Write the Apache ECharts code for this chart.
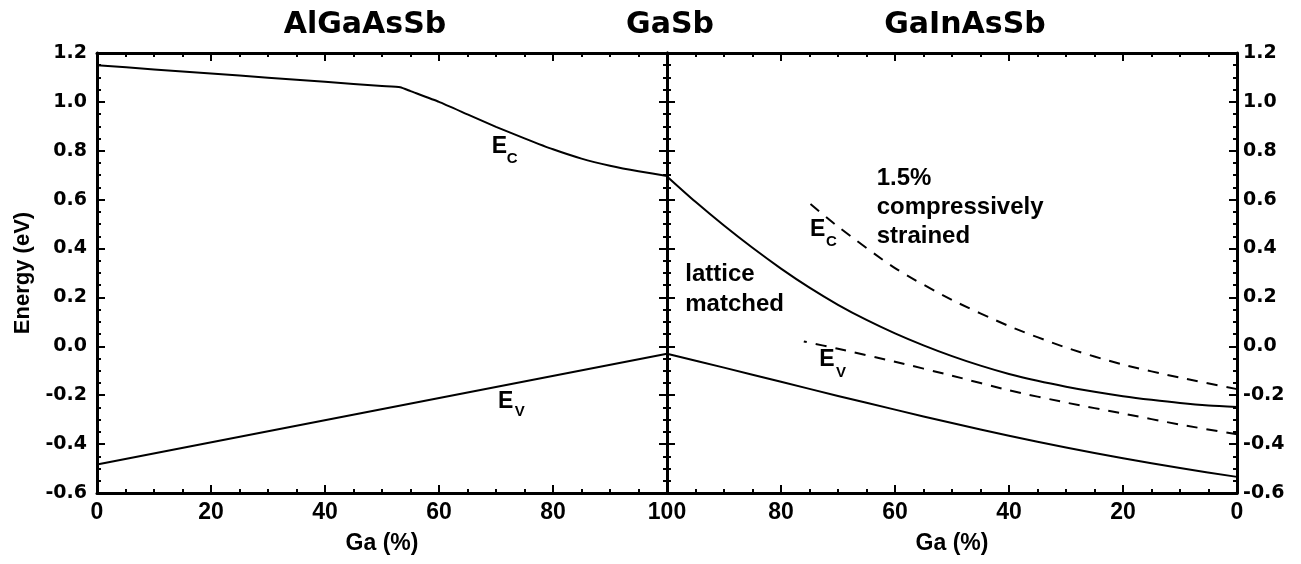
<!DOCTYPE html>
<html>
<head>
<meta charset="utf-8">
<script src="https://cdn.jsdelivr.net/npm/echarts@6/dist/echarts.min.js"></script>
<style>
  html, body { margin: 0; padding: 0; background: #fff; }
  #chart { width: 1301px; height: 564px; }
</style>
</head>
<body>
<div id="chart"></div>
<script>
// Band edges versus Ga content: AlGaAsSb (left panel) and GaInAsSb (right panel, Ga axis reversed)
const yTicks = [-0.6, -0.4, -0.2, 0.0, 0.2, 0.4, 0.6, 0.8, 1.0, 1.2];
const xTicks = [0, 20, 40, 60, 80, 100];

// AlGaAsSb conduction band edge
const gaAlGaEc = [0, 10, 20, 30, 40, 50, 53.2, 55, 60, 65, 70, 75, 80, 85, 90, 95, 100];
const ecAlGa   = [1.15, 1.133, 1.116, 1.099, 1.082, 1.065, 1.06, 1.044, 1.0, 0.949, 0.898, 0.851, 0.806, 0.768, 0.739, 0.716, 0.697];
// AlGaAsSb valence band edge
const gaAlGaEv = [0, 100];
const evAlGa   = [-0.483, -0.03];

// GaInAsSb lattice matched
const gaInEc = [0, 5, 10, 15, 20, 25, 30, 35, 40, 45, 50, 55, 60, 65, 70, 75, 80, 85, 90, 95, 100];
const ecGaIn = [-0.248, -0.242, -0.232, -0.219, -0.204, -0.186, -0.165, -0.141, -0.113, -0.079, -0.040, 0.004, 0.053, 0.108, 0.170, 0.240, 0.318, 0.403, 0.494, 0.591, 0.695];
const gaInEv = [0, 10, 20, 30, 40, 50, 60, 70, 80, 90, 100];
const evGaIn = [-0.534, -0.498, -0.458, -0.414, -0.366, -0.314, -0.259, -0.203, -0.145, -0.087, -0.03];

// GaInAsSb 1.5% compressively strained
const gaStrained = [0, 10, 20, 30, 40, 50, 60, 70, 76];
const ecStrained = [-0.175, -0.128, -0.075, -0.005, 0.083, 0.19, 0.32, 0.49, 0.605];
const evStrained = [-0.36, -0.32, -0.275, -0.23, -0.18, -0.12, -0.063, -0.01, 0.02];

const pairs = (xs, ys) => xs.map((x, i) => [x, ys[i]]);

const ARIAL = '"Liberation Sans", Arial, sans-serif';
const WIDE = '"DejaVu Sans", Verdana, sans-serif';
const INK = '#000';

const lineAxis = { show: true, onZero: false, lineStyle: { color: INK, width: 3 } };
const tick = { show: true, inside: true, length: 8, lineStyle: { color: INK, width: 2 } };
const minor = { show: true, splitNumber: 4, length: 4, lineStyle: { color: INK, width: 2 } };

function xAxisFor(grid, pos, withLabels, inverse, hideMax) {
  return {
    type: 'value', gridIndex: grid, position: pos, min: xTicks[0], max: xTicks[xTicks.length - 1],
    interval: xTicks[1] - xTicks[0], inverse: inverse,
    axisLine: lineAxis, axisTick: tick, minorTick: minor, splitLine: { show: false },
    axisLabel: withLabels ? {
      show: true, margin: 8, color: INK, fontFamily: ARIAL, fontWeight: 'bold', fontSize: 23,
      showMaxLabel: !hideMax, showMinLabel: true
    } : { show: false },
    name: withLabels ? 'Ga (%)' : '', nameLocation: 'middle', nameGap: 39,
    nameTextStyle: { color: INK, fontFamily: ARIAL, fontWeight: 'bold', fontSize: 23 }
  };
}

function yAxisFor(grid, pos, withLabels, margin) {
  return {
    type: 'value', gridIndex: grid, position: pos, min: yTicks[0], max: yTicks[yTicks.length - 1],
    interval: yTicks[1] - yTicks[0],
    axisLine: lineAxis, axisTick: tick, minorTick: minor, splitLine: { show: false },
    axisLabel: withLabels ? {
      show: true, margin: margin, color: INK, fontFamily: WIDE, fontWeight: 'bold', fontSize: 19,
      formatter: v => (Math.abs(v) < 1e-9 ? 0 : v).toFixed(1)
    } : { show: false }
  };
}

const energyAxis = yAxisFor(0, 'left', true, 10);
energyAxis.name = 'Energy (eV)';
energyAxis.nameLocation = 'middle';
energyAxis.nameRotate = 90;
energyAxis.nameGap = 63;
energyAxis.nameTextStyle = { color: INK, fontFamily: ARIAL, fontWeight: 'bold', fontSize: 22 };

const solid = { color: INK, width: 2, type: 'solid' };
const dashed = { color: INK, width: 2, type: [11, 9] };

function curve(xs, ys, xi, yi, style, smooth) {
  return {
    type: 'line', xAxisIndex: xi, yAxisIndex: yi, data: pairs(xs, ys),
    showSymbol: false, symbol: 'none', smooth: smooth,
    lineStyle: Object.assign({ join: 'round', cap: 'butt' }, style),
    itemStyle: { color: INK }, animation: false, silent: true, z: 3
  };
}

const chart = echarts.init(document.getElementById('chart'), null, { renderer: 'canvas' });

chart.setOption({
  animation: false,
  backgroundColor: '#fff',
  grid: [
    { left: 97, top: 53, width: 570, height: 440, outerBoundsMode: 'none' },
    { left: 667, top: 53, width: 570, height: 440, outerBoundsMode: 'none' }
  ],
  xAxis: [
    xAxisFor(0, 'bottom', true, false, true),
    xAxisFor(0, 'top', false, false, false),
    xAxisFor(1, 'bottom', true, true, false),
    xAxisFor(1, 'top', false, true, false)
  ],
  yAxis: [
    energyAxis,
    yAxisFor(0, 'right', false, 0),
    yAxisFor(1, 'left', false, 0),
    yAxisFor(1, 'right', true, 6)
  ],
  series: [
    curve(gaAlGaEc, ecAlGa, 0, 0, solid, 0.15),
    curve(gaAlGaEv, evAlGa, 0, 0, solid, false),
    curve(gaInEc, ecGaIn, 2, 2, solid, 0.25),
    curve(gaInEv, evGaIn, 2, 2, solid, 0.25),
    curve(gaStrained, ecStrained, 2, 2, dashed, 0.25),
    curve(gaStrained, evStrained, 2, 2, dashed, 0.25)
  ]
});

// Text annotations placed in data coordinates of each panel
function textAt(panel, x, y, text, size, family) {
  const idx = panel === 0 ? { xAxisIndex: 0, yAxisIndex: 0 } : { xAxisIndex: 2, yAxisIndex: 2 };
  const p = chart.convertToPixel(idx, [x, y]);
  return {
    type: 'text', x: p[0], y: p[1], silent: true, z: 10,
    style: {
      text: text, fill: INK, fontFamily: family || ARIAL, fontWeight: 'bold', fontSize: size,
      align: 'left', verticalAlign: 'middle'
    }
  };
}
function heading(px, text) {
  return {
    type: 'text', x: px, y: 25.5, silent: true, z: 10,
    style: {
      text: text, fill: INK, fontFamily: WIDE, fontWeight: 'bold', fontSize: 30,
      align: 'center', verticalAlign: 'middle'
    }
  };
}

chart.setOption({
  graphic: [
    heading(365, 'AlGaAsSb'),
    heading(670, 'GaSb'),
    heading(965, 'GaInAsSb'),
    textAt(0, 69.25, 0.817, 'E', 23), textAt(0, 71.9, 0.766, 'C', 15),
    textAt(0, 70.35, -0.226, 'E', 23), textAt(0, 73.3, -0.267, 'V', 15),
    textAt(1, 74.9, 0.476, 'E', 23), textAt(1, 72.1, 0.427, 'C', 15),
    textAt(1, 73.3, -0.056, 'E', 23), textAt(1, 70.35, -0.107, 'V', 15),
    textAt(1, 96.8, 0.294, 'lattice', 24),
    textAt(1, 96.8, 0.171, 'matched', 24),
    textAt(1, 63.2, 0.689, '1.5%', 24),
    textAt(1, 63.2, 0.570, 'compressively', 24),
    textAt(1, 63.2, 0.451, 'strained', 24)
  ]
});
</script>
</body>
</html>
